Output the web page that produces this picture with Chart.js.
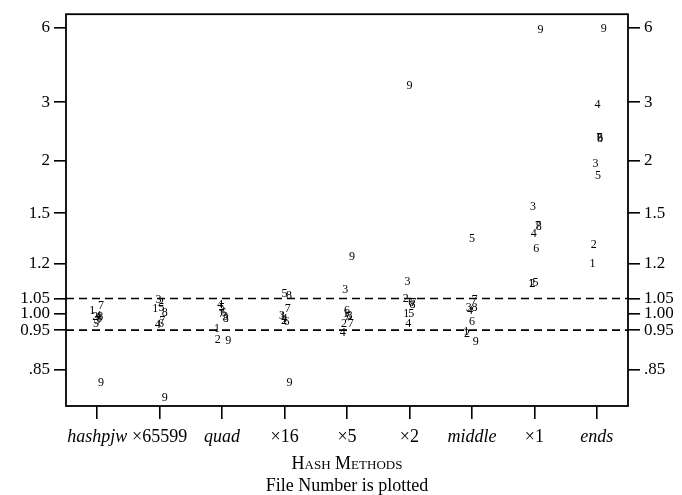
<!DOCTYPE html>
<html><head><meta charset="utf-8">
<style>html,body{margin:0;padding:0;background:#fff}#wrap{width:682px;height:495px}</style>
<script src="https://cdn.jsdelivr.net/npm/chart.js@4/dist/chart.umd.min.js"></script>
</head><body><div id="wrap"><canvas id="c" width="682" height="495"></canvas></div>
<script>
// ---- data ----
const methods = ['hashpjw', '×65599', 'quad', '×16', '×5', '×2', 'middle', '×1', 'ends'];
const italicMethods = ['hashpjw', 'quad', 'middle', 'ends'];
const fileNumbers = [1, 2, 3, 4, 5, 6, 7, 8, 9];
// relative performance per file (index = file number - 1)
const hashpjw = [1.01, 0.99, 0.98, 0.995, 0.97, 0.985, 1.025, 0.99, 0.82];
const x65599  = [1.015, 1.035, 1.045, 0.965, 1.02, 0.97, 0.98, 1.005, 0.785];
const quad    = [0.955, 0.925, 0.99, 1.03, 1.02, 1.005, 1.0, 0.985, 0.923];
const x16     = [0.99, 0.98, 0.995, 0.985, 1.07, 0.975, 1.015, 1.06, 0.818];
const x5      = [1.0, 0.97, 1.085, 0.943, 0.99, 1.01, 0.97, 0.995, 1.237];
const x2      = [1.0, 1.05, 1.12, 0.968, 1.0, 1.035, 1.035, 1.03, 3.5];
const middle  = [0.945, 0.94, 1.02, 1.01, 1.34, 0.975, 1.047, 1.02, 0.92];
const x1      = [1.11, 1.11, 1.55, 1.37, 1.115, 1.28, 1.42, 1.41, 5.9];
const ends    = [1.2, 1.305, 1.96, 2.95, 1.84, 2.35, 2.34, 2.33, 5.92];
const seriesValues = [hashpjw, x65599, quad, x16, x5, x2, middle, x1, ends];
// horizontal jitter of each plotted file number (category units)
const jitter = [
  [-0.08, -0.03, 0.0, 0.02, -0.02, 0.03, 0.06, 0.05, 0.06],
  [-0.07, 0.02, -0.02, -0.03, 0.03, 0.02, 0.04, 0.08, 0.08],
  [-0.08, -0.07, 0.05, -0.03, 0.0, 0.02, -0.01, 0.06, 0.1],
  [-0.03, -0.01, -0.04, 0.0, 0.0, 0.03, 0.05, 0.07, 0.08],
  [-0.02, -0.05, -0.03, -0.07, 0.02, 0.0, 0.06, 0.04, 0.08],
  [-0.05, -0.06, -0.03, -0.02, 0.03, 0.03, 0.06, 0.05, 0.0],
  [-0.09, -0.08, -0.05, -0.03, 0.0, 0.0, 0.04, 0.04, 0.06],
  [-0.05, -0.03, -0.02, -0.01, 0.02, 0.03, 0.06, 0.07, 0.1],
  [-0.07, -0.05, -0.02, 0.01, 0.02, 0.05, 0.04, 0.05, 0.11]
];
const yTickValues = [6, 3, 2, 1.5, 1.2, 1.05, 1.00, 0.95, 0.85];
const yTickLabels = ['6', '3', '2', '1.5', '1.2', '1.05', '1.00', '0.95', '.85'];
const bandLines = [1.05, 0.95];
const xTitle = 'Hash Methods';
const xSubtitle = 'File Number is plotted';

// ---- custom warped value scale (piecewise in log value) ----
const warpKnots = [[6, 0.0341], [3, 0.2247], [2, 0.3737], [1.5, 0.5076], [1.2, 0.6364],
                   [1.05, 0.7255], [1.00, 0.7652], [0.95, 0.8063], [0.85, 0.9073]];
function warp(v) {
  let i = 0;
  while (i < warpKnots.length - 2 && v < warpKnots[i + 1][0]) i++;
  const [v0, u0] = warpKnots[i], [v1, u1] = warpKnots[i + 1];
  return u0 + (Math.log(v) - Math.log(v0)) / (Math.log(v1) - Math.log(v0)) * (u1 - u0);
}
function unwarp(u) {
  let i = 0;
  while (i < warpKnots.length - 2 && u > warpKnots[i + 1][1]) i++;
  const [v0, u0] = warpKnots[i], [v1, u1] = warpKnots[i + 1];
  return Math.exp(Math.log(v0) + (u - u0) / (u1 - u0) * (Math.log(v1) - Math.log(v0)));
}
class WarpScale extends Chart.LinearScale {
  getPixelForValue(value) {
    const a = warp(this.max), b = warp(this.min);
    return this.top + (warp(value) - a) / (b - a) * (this.bottom - this.top);
  }
  getValueForPixel(pixel) {
    const a = warp(this.max), b = warp(this.min);
    return unwarp(a + (pixel - this.top) / (this.bottom - this.top) * (b - a));
  }
}
WarpScale.id = 'warp';
WarpScale.defaults = {};
Chart.register(WarpScale);

const SERIF = '"Liberation Serif", "DejaVu Serif", serif';
const yMin = unwarp(1), yMax = unwarp(0);

function yAxis(pos, width) {
  return {
    type: 'warp', position: pos, min: yMin, max: yMax,
    afterBuildTicks: s => { s.ticks = yTickValues.map(v => ({ value: v })); },
    afterFit: s => { s.width = width; },
    ticks: {
      color: '#000', padding: 4, font: { family: SERIF, size: 17 },
      callback: (v, i) => yTickLabels[i]
    },
    grid: { drawOnChartArea: false, drawTicks: true, tickLength: 12, color: '#000', lineWidth: 1.6 },
    border: { display: false }
  };
}

const datasets = methods.map((m, mi) => ({
  label: m,
  isFiles: true,
  data: seriesValues[mi].map((v, fi) => ({ x: mi + jitter[mi][fi], y: v })),
  pointRadius: 0, pointHoverRadius: 0
}));
bandLines.forEach(b => datasets.push({
  type: 'line', label: 'band ' + b,
  data: [{ x: -0.5, y: b }, { x: methods.length - 0.5, y: b }],
  borderColor: '#000', borderWidth: 1.6, borderDash: [8, 5],
  pointRadius: 0, fill: false
}));

const filePlugin = {
  id: 'fileDigits',
  afterDatasetsDraw(chart) {
    const ctx = chart.ctx;
    ctx.save();
    ctx.fillStyle = '#000';
    ctx.font = '12px ' + SERIF;
    ctx.textAlign = 'center';
    ctx.textBaseline = 'middle';
    chart.data.datasets.forEach((ds, di) => {
      if (!ds.isFiles) return;
      chart.getDatasetMeta(di).data.forEach((pt, i) => {
        ctx.fillText(String(fileNumbers[i]), pt.x, pt.y);
      });
    });
    ctx.restore();
  }
};
const framePlugin = {
  id: 'frame',
  afterDraw(chart) {
    const { ctx, chartArea: a } = chart;
    ctx.save();
    ctx.strokeStyle = '#000';
    ctx.lineWidth = 1.8;
    ctx.strokeRect(a.left, a.top, a.right - a.left, a.bottom - a.top);
    const cx = (a.left + a.right) / 2;
    ctx.fillStyle = '#000';
    ctx.textAlign = 'center';
    ctx.textBaseline = 'middle';
    ctx.font = '18px ' + SERIF;
    try { ctx.fontVariantCaps = 'small-caps'; } catch (e) {}
    ctx.fillText(xTitle, cx, a.bottom + 58);
    try { ctx.fontVariantCaps = 'normal'; } catch (e) {}
    ctx.fillText(xSubtitle, cx, a.bottom + 80);
    ctx.restore();
  }
};

new Chart(document.getElementById('c'), {
  type: 'scatter',
  data: { datasets },
  options: {
    responsive: false, animation: false, devicePixelRatio: 1,
    layout: { padding: { top: 10, left: 0, right: 0, bottom: 0 } },
    plugins: { legend: { display: false }, tooltip: { enabled: false } },
    scales: {
      x: {
        type: 'linear', min: -0.5, max: methods.length - 0.5,
        afterBuildTicks: s => { s.ticks = methods.map((m, i) => ({ value: i })); },
        afterFit: s => { s.height = 89; },
        ticks: {
          color: '#000', padding: 7, autoSkip: false, maxRotation: 0,
          callback: (v, i) => methods[i],
          font: c => ({ family: SERIF, size: 18,
            style: italicMethods.includes(methods[c.index]) ? 'italic' : 'normal' })
        },
        grid: { drawOnChartArea: false, drawTicks: true, tickLength: 13, color: '#000', lineWidth: 1.6 },
        border: { display: false }
      },
      y: yAxis('left', 66),
      yR: yAxis('right', 54)
    }
  },
  plugins: [filePlugin, framePlugin]
});
</script></body></html>
